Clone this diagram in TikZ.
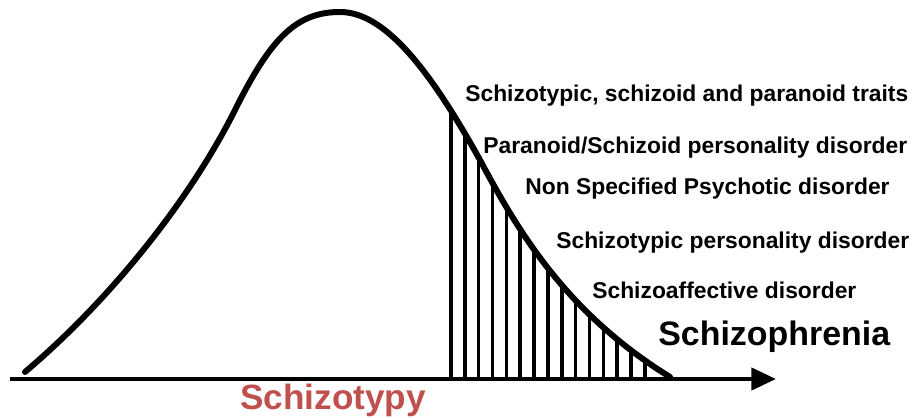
\documentclass[tikz,border=0pt]{standalone}
\usepackage{fontspec}
\setmainfont{Liberation Sans}
\usepackage{tikz}
\usetikzlibrary{arrows.meta}
\definecolor{curveBlack}{RGB}{0,0,0}
\definecolor{spectrumRed}{RGB}{192,80,77}
\tikzset{
  bellcurve/.style={draw=curveBlack, line width=3.4pt, line cap=round, line join=round},
  hatchline/.style={draw=curveBlack, line width=2pt},
  axisline/.style={draw=curveBlack, line width=2.5pt,
    -{Triangle[length=14pt, width=12.5pt]}},
  disorderlabel/.style={anchor=base west, inner sep=0pt, font=\fontsize{13}{15}\selectfont\bfseries},
  mainlabel/.style={anchor=base west, inner sep=0pt, font=\fontsize{19.3}{21}\selectfont\bfseries}
}
\newcommand{\bellpath}{(25,372) .. controls (110,300) and (190,200) .. (235,110)
  .. controls (270,40) and (295,12) .. (340,12)
  .. controls (385,12) and (430,70) .. (480,160)
  .. controls (520,235) and (568,314) .. (670,377)}

\begin{document}
\begin{tikzpicture}[x=0.02cm, y=-0.02cm]
  \useasboundingbox (0,0) rectangle (913,418);

  % hatched tail under the curve
  \begin{scope}
    \clip \bellpath -- (670,379) -- (25,379) -- cycle;
    \foreach \k in {0,...,14}
      \draw[hatchline] ({451+13.85*\k},379) -- ({451+13.85*\k},0);
  \end{scope}

  % axis and distribution
  \coordinate (axisstart) at (10,379);
  \coordinate (axisend) at (776,379);
  \draw[axisline] (axisstart) -- (axisend);
  \draw[bellcurve] \bellpath;

  % labels along the tail
  \node[disorderlabel] (traits) at (465,102) {Schizotypic, schizoid and paranoid traits};
  \node[disorderlabel] (parschiz) at (483,154) {Paranoid/Schizoid personality disorder};
  \node[disorderlabel] (nonspec) at (525,195) {Non Specified Psychotic disorder};
  \node[disorderlabel] (schizotypal) at (556,249) {Schizotypic personality disorder};
  \node[disorderlabel] (schizoaff) at (592,299) {Schizoaffective disorder};
  \node[mainlabel] (schizophrenia) at (658,346) {Schizophrenia};
  \node[mainlabel, text=spectrumRed, font=\fontsize{20}{22}\selectfont\bfseries]
    (schizotypy) at (240,410) {Schizotypy};
\end{tikzpicture}
\end{document}
